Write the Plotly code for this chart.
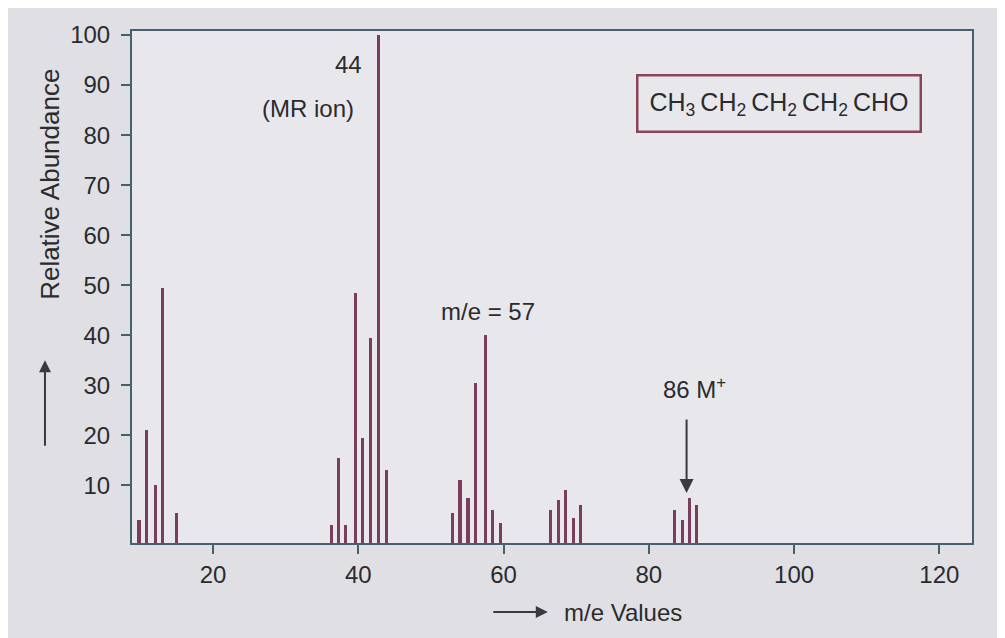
import plotly.graph_objects as go

# m/e positions (as drawn) and relative abundances
mz = [9.8, 10.9, 12.1, 13.0, 15.0,
      36.3, 37.3, 38.3, 39.6, 40.6, 41.7, 42.8, 43.9,
      53.0, 54.0, 55.1, 56.2, 57.5, 58.5, 59.6,
      66.4, 67.5, 68.5, 69.6, 70.6,
      83.5, 84.6, 85.6, 86.6]
abundance = [3, 21, 10, 49.5, 4.5,
             2, 15.5, 2, 48.5, 19.5, 39.5, 100, 13,
             4.5, 11, 7.5, 30.5, 40, 5, 2.5,
             5, 7, 9, 3.5, 6,
             5, 3, 7.5, 6]

x_ticks = [20, 40, 60, 80, 100, 120]
y_ticks = [10, 20, 30, 40, 50, 60, 70, 80, 90, 100]

x_range = [8.84, 124.5]
y_range = [-1.5, 100.8]

FONT = "Liberation Sans"
TXT = "#2b2b2e"
AXIS = "#47606e"
BAR = "#7b3d5c"

fig = go.Figure()
fig.add_trace(go.Bar(
    x=mz,
    y=[v - y_range[0] for v in abundance],
    base=y_range[0],
    width=0.42,
    marker=dict(color=BAR, line=dict(width=0)),
    showlegend=False,
))

fig.update_layout(
    width=997, height=630,
    margin=dict(l=124, r=33, t=23, b=95),
    paper_bgcolor="#e0e0e4",
    plot_bgcolor="#e8e8ec",
    font=dict(family=FONT, size=24, color=TXT),
    xaxis=dict(range=x_range, tickvals=x_ticks, ticks="outside", ticklen=9,
               tickcolor=AXIS, tickwidth=1.5, showline=True, linecolor=AXIS,
               linewidth=2, mirror=True, showgrid=False, zeroline=False,
               tickfont=dict(size=24, color=TXT), automargin=False),
    yaxis=dict(range=y_range, tickvals=y_ticks, ticks="outside", ticklen=9,
               tickcolor=AXIS, tickwidth=1.5, showline=True, linecolor=AXIS,
               linewidth=2, mirror=True, showgrid=False, zeroline=False,
               tickfont=dict(size=24, color=TXT), ticklabelstandoff=6,
               automargin=False),
    bargap=0,
)

S = "\u2009"
ann = [
    dict(x=38.6, y=94.2, text="44", showarrow=False),
    dict(x=33.1, y=85.4, text="(MR ion)", showarrow=False),
    dict(x=57.9, y=44.7, text="m/e = 57", showarrow=False),
    dict(x=86.3, y=29.5, text="86 M<sup>+</sup>", showarrow=False),
    dict(x=85.2, y=8.5, ax=85.2, ay=23.5, axref="x", ayref="y", text="",
         showarrow=True, arrowhead=2, arrowsize=1.4, arrowwidth=2,
         arrowcolor="#3a3a3e"),
    dict(x=97.9, y=86.4,
         text=("CH<sub>3</sub>" + S + "CH<sub>2</sub>" + S + "CH<sub>2</sub>"
               + S + "CH<sub>2</sub>" + S + "CHO"),
         showarrow=False, bordercolor="#8a4458", borderwidth=2.5,
         borderpad=11, bgcolor="rgba(0,0,0,0)", font=dict(size=25)),
    # axis titles with arrows
    dict(xref="paper", yref="paper", x=0.5845, y=-0.1348, text="m/e Values",
         showarrow=False, font=dict(size=24)),
    dict(xref="paper", yref="paper", x=0.495, y=-0.1348, ax=-56, ay=0,
         text="", showarrow=True, arrowhead=2, arrowsize=1.2, arrowwidth=2,
         arrowcolor="#3a3a3e"),
    dict(xref="paper", yref="paper", x=-0.0985, y=0.70,
         text="Relative Abundance", textangle=-90, showarrow=False,
         font=dict(size=26)),
    dict(xref="paper", yref="paper", x=-0.1036, y=0.357, ax=0, ay=87,
         text="", showarrow=True, arrowhead=2, arrowsize=1.2, arrowwidth=2,
         arrowcolor="#3a3a3e"),
]
for a in ann:
    a.setdefault("font", dict(size=24))
    a["font"].setdefault("color", TXT)
    a.setdefault("xanchor", "center")
    a.setdefault("yanchor", "middle")
    if "xref" not in a:
        a["xref"] = "x"
        a["yref"] = "y"
fig.update_layout(annotations=ann)

fig.write_html("out.html")
